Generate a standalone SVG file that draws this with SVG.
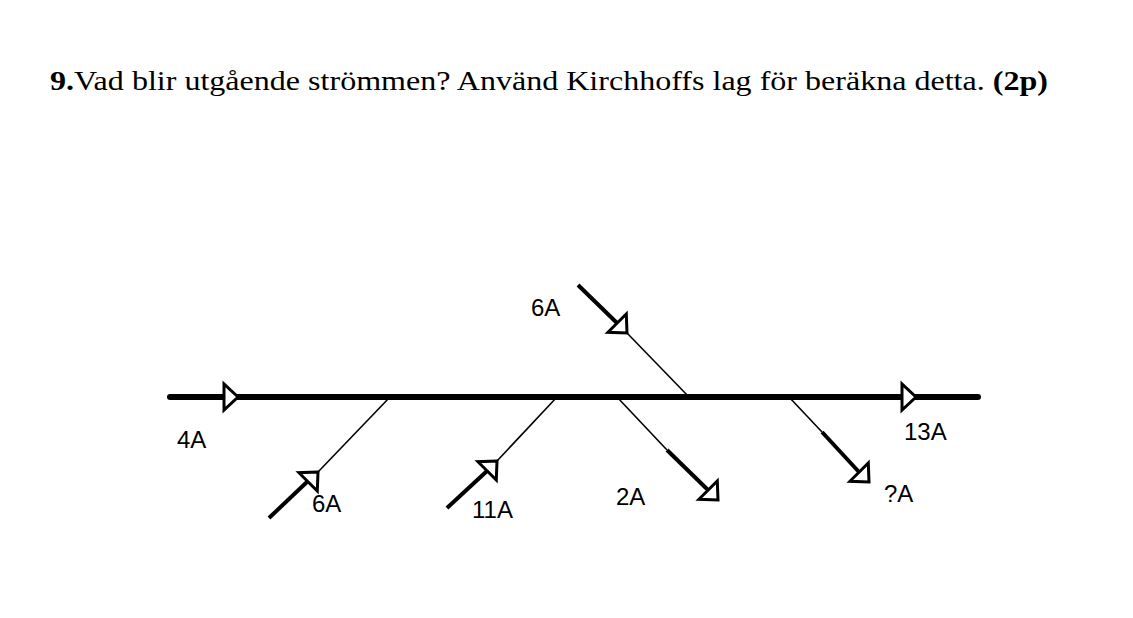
<svg xmlns="http://www.w3.org/2000/svg" width="1133" height="618" viewBox="0 0 1133 618">
<style>
.title{font-family:"Liberation Serif","Times New Roman",serif;font-size:28px;fill:#000}
.lbl{font-family:"Liberation Sans",Arial,sans-serif;font-size:24px;fill:#000}
.main{stroke:#000;stroke-width:6;stroke-linecap:round;fill:none}
.thick{stroke:#000;stroke-width:4;fill:none}
.thin{stroke:#000;stroke-width:1.6;fill:none}
.head{fill:#fff;stroke:#000;stroke-width:3;stroke-linejoin:miter}
</style>
<defs>
<path id="ah" d="M0,0 L-14,-13 L-14,13 Z"/>
</defs>
<rect width="1133" height="618" fill="#fff"/>
<text class="title" x="50" y="90" textLength="998" lengthAdjust="spacingAndGlyphs"><tspan font-weight="bold">9.</tspan>Vad blir utgående strömmen? Använd Kirchhoffs lag för beräkna detta. <tspan font-weight="bold">(2p)</tspan></text>
<g id="connectors">
<line class="main" x1="170" y1="397" x2="978" y2="397"/>
<line class="thick" x1="578" y1="285" x2="617" y2="323"/>
<line class="thin" x1="627" y1="333" x2="689" y2="397"/>
<line class="thick" x1="269" y1="518" x2="308" y2="481"/>
<line class="thin" x1="318" y1="472" x2="390" y2="397"/>
<line class="thick" x1="447" y1="508" x2="487" y2="471"/>
<line class="thin" x1="497" y1="461" x2="557" y2="397"/>
<line class="thin" x1="617" y1="397" x2="667" y2="450"/>
<line class="thick" x1="667" y1="450" x2="708" y2="490"/>
<line class="thin" x1="789" y1="397" x2="822" y2="432"/>
<line class="thick" x1="822" y1="432" x2="859" y2="472"/>
<use href="#ah" class="head" transform="translate(238,397)"/>
<use href="#ah" class="head" transform="translate(916,397)"/>
<use href="#ah" class="head" transform="translate(627,333) rotate(45)"/>
<use href="#ah" class="head" transform="translate(318,472) rotate(-45)"/>
<use href="#ah" class="head" transform="translate(497,461) rotate(-45)"/>
<use href="#ah" class="head" transform="translate(718,500) rotate(45)"/>
<use href="#ah" class="head" transform="translate(869,482) rotate(45)"/>
</g>
<g id="in-4A"><text class="lbl" x="177" y="448">4A</text></g>
<g id="out-13A"><text class="lbl" x="904" y="440">13A</text></g>
<g id="in-6A-top"><text class="lbl" x="531" y="316">6A</text></g>
<g id="in-6A-bottom"><text class="lbl" x="312" y="512">6A</text></g>
<g id="in-11A"><text class="lbl" x="472" y="518">11A</text></g>
<g id="out-2A"><text class="lbl" x="616" y="505">2A</text></g>
<g id="out-qA"><text class="lbl" x="884" y="502">?A</text></g>
</svg>
